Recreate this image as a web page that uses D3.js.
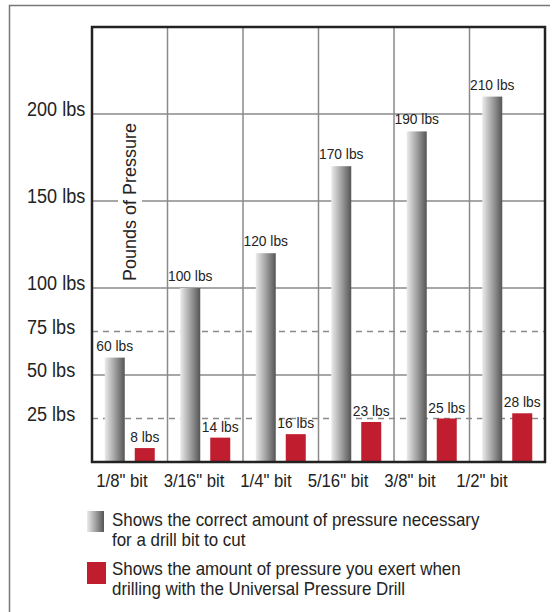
<!DOCTYPE html>
<html>
<head>
<meta charset="utf-8">
<script src="https://cdn.jsdelivr.net/npm/d3@7/dist/d3.min.js"></script>
<style>
  body { margin: 0; background: #fff; }
  text { font-family: "Liberation Sans", Arial, Helvetica, sans-serif; fill: #232323; }
</style>
</head>
<body>
<div id="chart"></div>
<script>
// data
var categories = ['1/8" bit', '3/16" bit', '1/4" bit', '5/16" bit', '3/8" bit', '1/2" bit'];
var requiredLbs = [60, 100, 120, 170, 190, 210];
var exertedLbs = [8, 14, 16, 23, 25, 28];
var solidTicks = [50, 100, 150, 200];
var dashedTicks = [25, 75];
var tickLabels = [25, 50, 75, 100, 150, 200];
var yTitle = 'Pounds of Pressure';
var legendRequired = ['Shows the correct amount of pressure necessary', 'for a drill bit to cut'];
var legendExerted = ['Shows the amount of pressure you exert when', 'drilling with the Universal Pressure Drill'];

var W = 554, H = 612;
var plot = {left: 92, right: 545, top: 27, bottom: 462};
var grey = '#8a8a8a', red = '#c01d2e';

var svg = d3.select('#chart').append('svg')
    .attr('width', W)
    .attr('height', H);

// squeeze text horizontally (the original uses a condensed face)
function place(sel, fx, fy, sx) {
    sel.attr('transform', function(d, i) {
        return 'translate(' + fx(d, i) + ',' + fy(d, i) + ') scale(' + sx + ',1)';
    });
}

// gradient for the grey bars
var grad = svg.append('defs').append('linearGradient')
    .attr('id', 'barGrad')
    .attr('x1', '0%').attr('x2', '100%').attr('y1', '0%').attr('y2', '0%');
grad.append('stop').attr('offset', '0%').attr('stop-color', '#ebebeb');
grad.append('stop').attr('offset', '45%').attr('stop-color', '#a9a9a9');
grad.append('stop').attr('offset', '100%').attr('stop-color', '#555');

// outer frame (top + left only)
svg.append('path')
    .attr('d', 'M9.5,' + H + 'V5.5H550')
    .attr('fill', 'none')
    .attr('stroke', '#777')
    .attr('stroke-width', 1.5);

// scales
var x = d3.scaleBand().domain(categories).range([plot.left, plot.right]);
var inner = d3.scaleBand().domain(['required', 'exerted']).range([-25, 25]).paddingInner(1 / 3);
var y = d3.scaleLinear().domain([0, 250]).range([plot.bottom, plot.top]);
var xLabel = d3.scalePoint().domain(categories).range([122, 482]);

function cx(c) { return x(c) + x.bandwidth() / 2; }

// grid
var grid = svg.append('g');
grid.selectAll('.vgrid')
    .data(categories.slice(1))
    .enter().append('line')
    .attr('class', 'vgrid')
    .attr('x1', function(d) { return x(d); })
    .attr('x2', function(d) { return x(d); })
    .attr('y1', plot.top)
    .attr('y2', plot.bottom)
    .attr('stroke', grey)
    .attr('stroke-width', 1.5);
grid.selectAll('.hgrid')
    .data(solidTicks)
    .enter().append('line')
    .attr('class', 'hgrid')
    .attr('x1', plot.left).attr('x2', plot.right)
    .attr('y1', function(d) { return y(d); })
    .attr('y2', function(d) { return y(d); })
    .attr('stroke', grey)
    .attr('stroke-width', 1.5);
grid.selectAll('.dgrid')
    .data(dashedTicks)
    .enter().append('line')
    .attr('class', 'dgrid')
    .attr('x1', plot.left).attr('x2', plot.right)
    .attr('y1', function(d) { return y(d); })
    .attr('y2', function(d) { return y(d); })
    .attr('stroke', grey)
    .attr('stroke-width', 1.5)
    .attr('stroke-dasharray', '6,5');

// y title with white backing
var titleG = svg.append('g')
    .attr('transform', 'translate(136,202) rotate(-90)');
var titleBg = titleG.append('rect').attr('fill', '#fff');
var title = titleG.append('text')
    .attr('text-anchor', 'middle')
    .style('font-size', '18px')
    .text(yTitle);
var bb = title.node().getBBox();
titleBg.attr('x', bb.x - 2).attr('y', bb.y - 2)
    .attr('width', bb.width + 4).attr('height', bb.height + 4);

// bars
svg.selectAll('.req')
    .data(categories)
    .enter().append('rect')
    .attr('class', 'req')
    .attr('x', function(d) { return cx(d) + inner('required'); })
    .attr('width', inner.bandwidth())
    .attr('y', function(d, i) { return y(requiredLbs[i]); })
    .attr('height', function(d, i) { return y(0) - y(requiredLbs[i]); })
    .style('fill', 'url(#barGrad)');
svg.selectAll('.exe')
    .data(categories)
    .enter().append('rect')
    .attr('class', 'exe')
    .attr('x', function(d) { return cx(d) + inner('exerted'); })
    .attr('width', inner.bandwidth())
    .attr('y', function(d, i) { return y(exertedLbs[i]); })
    .attr('height', function(d, i) { return y(0) - y(exertedLbs[i]); })
    .style('fill', red);

// value labels
svg.selectAll('.reqLbl')
    .data(categories)
    .enter().append('text')
    .attr('class', 'reqLbl')
    .attr('text-anchor', 'middle')
    .style('font-size', '15px')
    .text(function(d, i) { return requiredLbs[i] + ' lbs'; })
    .call(place,
        function(d) { return cx(d) + inner('required') + inner.bandwidth() / 2; },
        function(d, i) { return y(requiredLbs[i]) - 7; }, 0.92);
svg.selectAll('.exeLbl')
    .data(categories)
    .enter().append('text')
    .attr('class', 'exeLbl')
    .attr('text-anchor', 'middle')
    .style('font-size', '15px')
    .text(function(d, i) { return exertedLbs[i] + ' lbs'; })
    .call(place,
        function(d) { return cx(d) + inner('exerted') + inner.bandwidth() / 2; },
        function(d, i) { return y(exertedLbs[i]) - 6; }, 0.92);

// plot border
svg.append('rect')
    .attr('x', plot.left).attr('y', plot.top)
    .attr('width', plot.right - plot.left)
    .attr('height', plot.bottom - plot.top)
    .attr('fill', 'none')
    .attr('stroke', '#222')
    .attr('stroke-width', 2.5);

// y tick labels
svg.selectAll('.ytick')
    .data(tickLabels)
    .enter().append('text')
    .attr('class', 'ytick')
    .style('font-size', '21px')
    .text(function(d) { return d + ' lbs'; })
    .call(place, function() { return 27; }, function(d) { return y(d) + 2; }, 0.86);

// x labels
svg.selectAll('.xtick')
    .data(categories)
    .enter().append('text')
    .attr('class', 'xtick')
    .attr('text-anchor', 'middle')
    .style('font-size', '19px')
    .text(function(d) { return d; })
    .call(place, function(d) { return xLabel(d); }, function() { return 487; }, 0.88);

// legend
svg.append('rect')
    .attr('x', 87).attr('y', 511).attr('width', 17).attr('height', 21)
    .style('fill', 'url(#barGrad)');
svg.append('rect')
    .attr('x', 87).attr('y', 562).attr('width', 19).attr('height', 22)
    .style('fill', red);
svg.selectAll('.lg1')
    .data(legendRequired)
    .enter().append('text')
    .style('font-size', '18px')
    .text(function(d) { return d; })
    .call(place, function() { return 112; }, function(d, i) { return 526 + i * 20; }, 0.94);
svg.selectAll('.lg2')
    .data(legendExerted)
    .enter().append('text')
    .style('font-size', '18px')
    .text(function(d) { return d; })
    .call(place, function() { return 112; }, function(d, i) { return 575 + i * 20; }, 0.94);
</script>
</body>
</html>
